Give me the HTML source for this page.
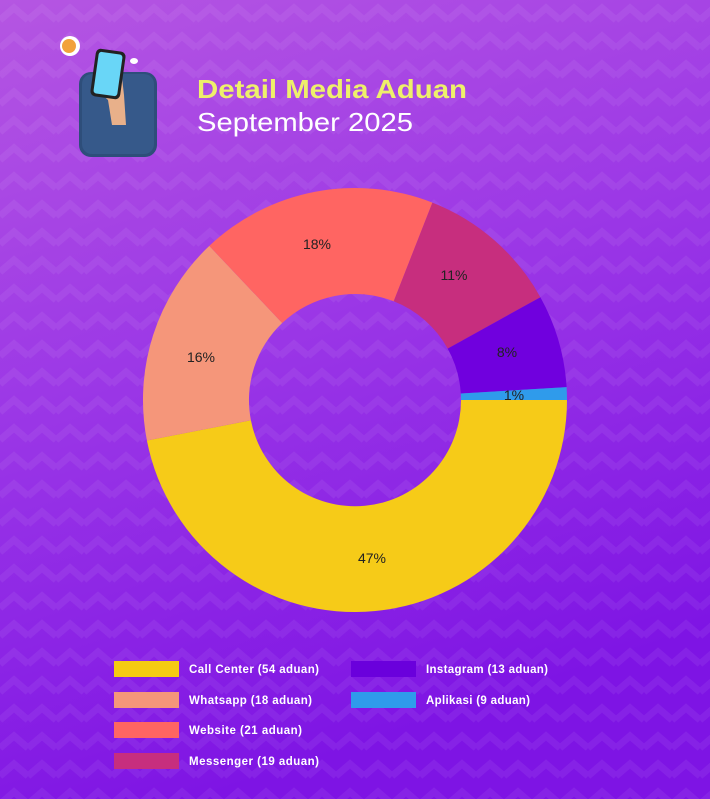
<!DOCTYPE html>
<html><head><meta charset="utf-8"><style>
html,body{margin:0;padding:0;width:710px;height:799px;overflow:hidden;}
body{font-family:"Liberation Sans",sans-serif;}
</style></head><body>
<svg width="710" height="799" xmlns="http://www.w3.org/2000/svg">
<defs>
<linearGradient id="bg" x1="0" y1="0" x2="0.3" y2="1">
<stop offset="0" stop-color="#B556E2"/>
<stop offset="0.5" stop-color="#9A36E6"/>
<stop offset="1" stop-color="#7E14E4"/>
</linearGradient>
<pattern id="zz" width="28" height="28" patternUnits="userSpaceOnUse">
<path d="M0 20 L14 8 L28 20" fill="none" stroke="#ffffff" stroke-opacity="0.06" stroke-width="7"/>
</pattern>
</defs>
<rect width="710" height="799" fill="url(#bg)"/>
<rect width="710" height="799" fill="url(#zz)"/>

<!-- illustration -->
<rect x="79" y="72" width="78" height="85" rx="12" fill="#2E4E7A"/>
<rect x="82" y="74" width="72" height="80" rx="10" fill="#36598A"/>
<path d="M96 60 L92 85 L108 100 L112 125 L126 125 L124 95 L120 60 Z" fill="#E8B08A"/>
<rect x="93" y="50" width="30" height="48" rx="5" fill="#222" transform="rotate(8 108 74)"/>
<rect x="96" y="53" width="24" height="42" rx="3" fill="#69D6F7" transform="rotate(8 108 74)"/>
<circle cx="70" cy="46" r="10" fill="#fff"/>
<circle cx="69" cy="46" r="7" fill="#F2A23B"/>
<ellipse cx="134" cy="61" rx="4" ry="3" fill="#fff"/>

<text x="197" y="98" font-family="Liberation Sans,sans-serif" font-weight="bold" font-size="26" fill="#EEF06A" textLength="270" lengthAdjust="spacingAndGlyphs">Detail Media Aduan</text>
<text x="197" y="131" font-family="Liberation Sans,sans-serif" font-size="26" fill="#fff" textLength="216" lengthAdjust="spacingAndGlyphs">September 2025</text>

<!-- donut -->
<path d="M567 400 A212 212 0 0 1 146.9 440.5 L250.9 420.2 A106 106 0 0 0 461 400 Z" fill="#F6CB18"/>
<path d="M146.9 440.5 A212 212 0 0 1 209.3 245.9 L282.2 323 A106 106 0 0 0 250.9 420.2 Z" fill="#F5967A"/>
<path d="M209.3 245.9 A212 212 0 0 1 432.4 202.6 L393.7 301.3 A106 106 0 0 0 282.2 323 Z" fill="#FF6562"/>
<path d="M432.4 202.6 A212 212 0 0 1 540.4 297.2 L447.7 348.6 A106 106 0 0 0 393.7 301.3 Z" fill="#C72E7E"/>
<path d="M540.4 297.2 A212 212 0 0 1 566.6 387.1 L460.8 393.5 A106 106 0 0 0 447.7 348.6 Z" fill="#7000DE"/>
<path d="M566.6 387.1 A212 212 0 0 1 567 400 L461 400 A106 106 0 0 0 460.8 393.5 Z" fill="#2F9BEB"/>

<g font-family="Liberation Sans,sans-serif" font-size="14" fill="#222" text-anchor="middle">
<text x="372" y="563">47%</text>
<text x="201" y="362">16%</text>
<text x="317" y="249">18%</text>
<text x="454" y="280">11%</text>
<text x="507" y="357">8%</text>
<text x="514" y="400">1%</text>
</g>

<!-- legend -->
<g font-family="Liberation Sans,sans-serif" font-weight="bold" font-size="11.5" fill="#fff" lengthAdjust="spacingAndGlyphs">
<rect x="114" y="661" width="65" height="16" fill="#F5CB12"/><text x="189" y="673" textLength="130">Call Center (54 aduan)</text>
<rect x="114" y="692" width="65" height="16" fill="#F5967A"/><text x="189" y="704" textLength="123">Whatsapp (18 aduan)</text>
<rect x="114" y="722" width="65" height="16" fill="#FF6562"/><text x="189" y="734" textLength="113">Website (21 aduan)</text>
<rect x="114" y="753" width="65" height="16" fill="#C72E7E"/><text x="189" y="765" textLength="130">Messenger  (19 aduan)</text>
<rect x="351" y="661" width="65" height="16" fill="#6A00DC"/><text x="426" y="673" textLength="122">Instagram (13 aduan)</text>
<rect x="351" y="692" width="65" height="16" fill="#2F9BEB"/><text x="426" y="704" textLength="104">Aplikasi (9 aduan)</text>
</g>
</svg>
</body></html>
